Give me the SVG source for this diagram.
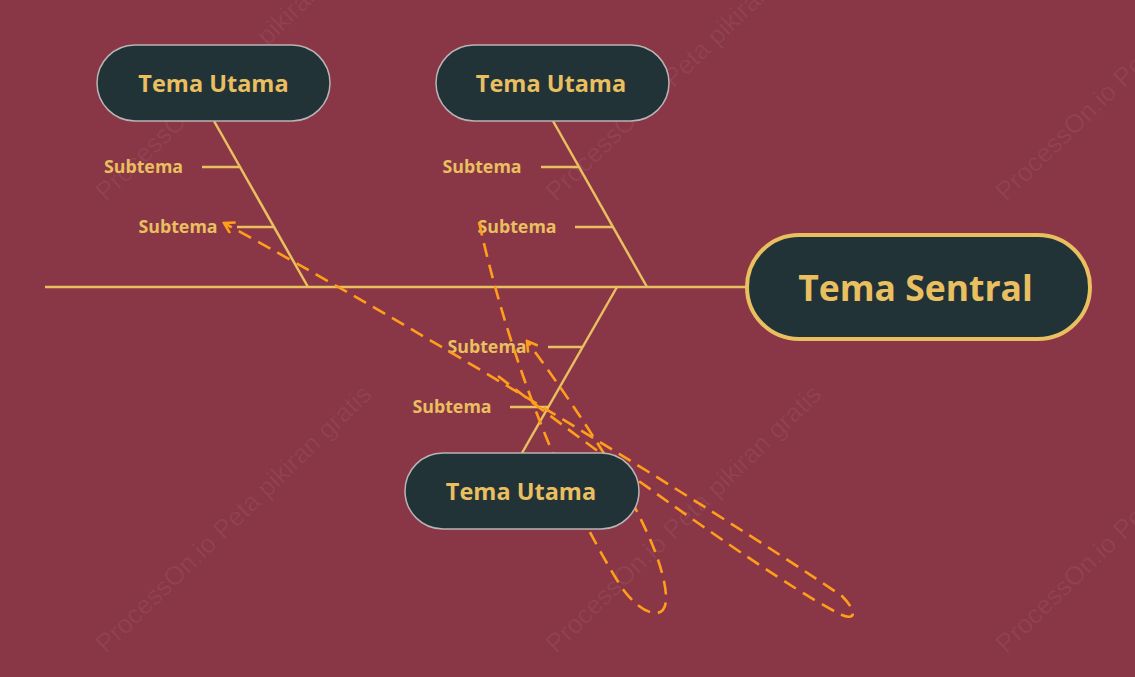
<svg xmlns="http://www.w3.org/2000/svg" width="1135" height="677" viewBox="0 0 1135 677">
  <style>
    .bone { stroke: #E9BF60; stroke-width: 2.5; fill: none; stroke-linecap: butt; }
    .sub { font-family: "Open Sans", "Noto Sans", "Liberation Sans", sans-serif; font-weight: bold; font-size: 17.8px; fill: #E9BF60; text-anchor: middle; }
    .main rect { fill: #223338; stroke: #B9B4B4; stroke-width: 1.5; }
    .main text { font-family: "Open Sans", "Noto Sans", "Liberation Sans", sans-serif; font-weight: bold; font-size: 23.5px; fill: #E9BF60; text-anchor: middle; }
    .rel { stroke: #FF9E1B; stroke-width: 2.6; fill: none; stroke-dasharray: 14 8; marker-end: url(#arrow); }
    .wm { font-family: "Liberation Sans", sans-serif; font-size: 26px; fill: #ffffff; fill-opacity: 0.06; }
  </style>
  <defs>
    <marker id="arrow" markerUnits="userSpaceOnUse" markerWidth="14" markerHeight="14" viewBox="0 0 14 14" refX="12" refY="7" orient="auto">
      <path d="M2,1 L12,7 L2,13" fill="none" stroke="#FF9E1B" stroke-width="2.6"/>
    </marker>
  </defs>
  <rect x="0" y="0" width="1135" height="677" fill="#893746"/>

  <g id="watermarks">
    <text class="wm" transform="translate(106,654) rotate(-44)">ProcessOn.io Peta pikiran gratis</text>
    <text class="wm" transform="translate(556,654) rotate(-44)">ProcessOn.io Peta pikiran gratis</text>
    <text class="wm" transform="translate(1006,654) rotate(-44)">ProcessOn.io Peta pikiran gratis</text>
    <text class="wm" transform="translate(106,202) rotate(-44)">ProcessOn.io Peta pikiran gratis</text>
    <text class="wm" transform="translate(556,202) rotate(-44)">ProcessOn.io Peta pikiran gratis</text>
    <text class="wm" transform="translate(1006,202) rotate(-44)">ProcessOn.io Peta pikiran gratis</text>
  </g>

  <g id="connectors">
    <line class="bone" x1="45" y1="287" x2="748" y2="287"/>
    <line class="bone" x1="214" y1="121" x2="308" y2="287"/>
    <line class="bone" x1="202" y1="167" x2="240" y2="167"/>
    <line class="bone" x1="237" y1="227" x2="274" y2="227"/>
    <line class="bone" x1="553" y1="121" x2="647" y2="287"/>
    <line class="bone" x1="541" y1="167" x2="579" y2="167"/>
    <line class="bone" x1="575" y1="227" x2="613" y2="227"/>
    <line class="bone" x1="617" y1="287" x2="522" y2="453"/>
    <line class="bone" x1="548" y1="347" x2="583" y2="347"/>
    <line class="bone" x1="510" y1="407" x2="548" y2="407"/>
  </g>

  <g id="subtopics">
    <text class="sub" x="143.5" y="173">Subtema</text>
    <text class="sub" x="178" y="233">Subtema</text>
    <text class="sub" x="482" y="173">Subtema</text>
    <text class="sub" x="517" y="233">Subtema</text>
    <text class="sub" x="487" y="353">Subtema</text>
    <text class="sub" x="452" y="413">Subtema</text>
  </g>

  <g id="relations">
    <path class="rel" d="M498,376 C600,455 780,585 842,615 C856,621 857,611 842,596 C700,500 420,330 224,223"/>
    <path class="rel" d="M479,222 C505,340 555,480 620,585 C640,615 668,625 666,595 C662,540 600,440 527,341"/>
  </g>

  <g id="node-top-left" class="main">
    <rect x="97" y="45" width="233" height="76" rx="38" ry="38"/>
    <text x="213.5" y="92">Tema Utama</text>
  </g>
  <g id="node-top-middle" class="main">
    <rect x="436" y="45" width="233" height="76" rx="38" ry="38"/>
    <text x="551" y="92">Tema Utama</text>
  </g>
  <g id="node-bottom" class="main">
    <rect x="405" y="453" width="234" height="76" rx="38" ry="38"/>
    <text x="521" y="500">Tema Utama</text>
  </g>
  <g id="node-central">
    <rect x="747" y="235" width="343" height="104" rx="52" ry="52" fill="#223338" stroke="#E9BF60" stroke-width="4"/>
    <text x="915.5" y="301" font-family="Open Sans, Noto Sans, Liberation Sans, sans-serif" font-weight="bold" font-size="35.5" fill="#E9BF60" text-anchor="middle">Tema Sentral</text>
  </g>
</svg>
